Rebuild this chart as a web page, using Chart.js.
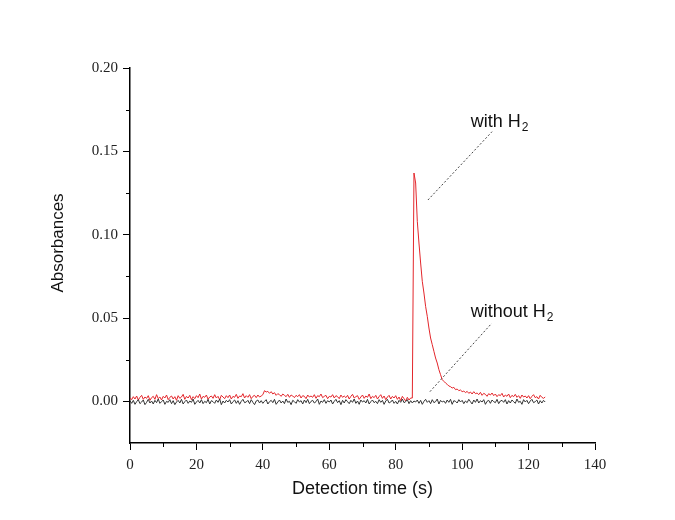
<!DOCTYPE html>
<html>
<head>
<meta charset="utf-8">
<script src="https://cdn.jsdelivr.net/npm/chart.js@4.4.1/dist/chart.umd.min.js"></script>
<style>
  html, body { margin: 0; padding: 0; background: #fff; }
  #wrap { width: 675px; height: 520px; }
</style>
</head>
<body>
<div id="wrap"><canvas id="absChart"></canvas></div>
<script>
// sampling times (s), 0.5 s apart
const timeS = [
  0,0.5,1,1.5,2,2.5,3,3.5,4,4.5, 5,5.5,6,6.5,7,7.5,8,8.5,9,9.5,
  10,10.5,11,11.5,12,12.5,13,13.5,14,14.5, 15,15.5,16,16.5,17,17.5,18,18.5,19,19.5,
  20,20.5,21,21.5,22,22.5,23,23.5,24,24.5, 25,25.5,26,26.5,27,27.5,28,28.5,29,29.5,
  30,30.5,31,31.5,32,32.5,33,33.5,34,34.5, 35,35.5,36,36.5,37,37.5,38,38.5,39,39.5,
  40,40.5,41,41.5,42,42.5,43,43.5,44,44.5, 45,45.5,46,46.5,47,47.5,48,48.5,49,49.5,
  50,50.5,51,51.5,52,52.5,53,53.5,54,54.5, 55,55.5,56,56.5,57,57.5,58,58.5,59,59.5,
  60,60.5,61,61.5,62,62.5,63,63.5,64,64.5, 65,65.5,66,66.5,67,67.5,68,68.5,69,69.5,
  70,70.5,71,71.5,72,72.5,73,73.5,74,74.5, 75,75.5,76,76.5,77,77.5,78,78.5,79,79.5,
  80,80.5,81,81.5,82,82.5,83,83.5,84,84.5, 85,85.5,86,86.5,87,87.5,88,88.5,89,89.5,
  90,90.5,91,91.5,92,92.5,93,93.5,94,94.5, 95,95.5,96,96.5,97,97.5,98,98.5,99,99.5,
  100,100.5,101,101.5,102,102.5,103,103.5,104,104.5, 105,105.5,106,106.5,107,107.5,108,108.5,109,109.5,
  110,110.5,111,111.5,112,112.5,113,113.5,114,114.5, 115,115.5,116,116.5,117,117.5,118,118.5,119,119.5,
  120,120.5,121,121.5,122,122.5,123,123.5,124,124.5, 125
];

const absWithoutH2 = [
  0.0004,-0.0012,0.0006,-0.0018,-0.0002,0.0010,-0.0014,-0.0004,0.0008,-0.0020,
  -0.0006,0.0012,-0.0010,0.0002,-0.0016,0.0006,-0.0008,0.0014,-0.0012,-0.0002,
  0.0008,-0.0018,0.0000,-0.0006,0.0010,-0.0014,0.0004,-0.0020,-0.0004,0.0006,
  -0.0010,0.0012,-0.0016,-0.0002,0.0008,-0.0012,0.0002,-0.0006,0.0014,-0.0018,
  -0.0004,0.0006,-0.0010,0.0010,-0.0014,0.0000,-0.0008,0.0012,-0.0016,0.0004,
  -0.0002,-0.0012,0.0008,-0.0006,0.0014,-0.0020,0.0002,-0.0010,0.0006,-0.0004,
  0.0010,-0.0016,-0.0002,0.0008,-0.0012,0.0004,-0.0018,0.0000,0.0012,-0.0008,
  -0.0004,0.0006,-0.0014,0.0010,-0.0006,-0.0020,0.0002,0.0008,-0.0010,0.0004,
  -0.0012,0.0000,0.0010,-0.0016,-0.0002,0.0006,-0.0008,0.0012,-0.0018,-0.0004,
  0.0008,-0.0010,0.0002,-0.0014,0.0014,-0.0006,0.0000,-0.0020,0.0006,-0.0002,
  -0.0012,0.0010,-0.0004,0.0004,-0.0016,0.0008,-0.0008,0.0012,-0.0014,0.0000,
  0.0006,-0.0010,-0.0002,0.0014,-0.0018,0.0002,-0.0006,0.0010,-0.0012,0.0004,
  -0.0004,0.0008,-0.0016,0.0000,0.0012,-0.0008,0.0004,-0.0020,0.0006,-0.0010,
  0.0010,-0.0002,-0.0014,0.0006,-0.0006,0.0014,-0.0012,0.0002,-0.0018,0.0008,
  -0.0004,0.0004,-0.0010,0.0012,-0.0016,-0.0002,0.0008,-0.0008,0.0000,-0.0014,
  0.0010,-0.0006,0.0006,-0.0018,0.0002,0.0012,-0.0010,-0.0004,0.0008,-0.0012,
  0.0000,-0.0016,0.0006,-0.0006,0.0014,-0.0008,-0.0002,0.0010,-0.0014,0.0004,
  -0.0010,0.0002,-0.0004,0.0008,-0.0012,0.0006,-0.0018,0.0000,0.0012,-0.0006,
  0.0004,-0.0014,0.0010,-0.0008,-0.0002,0.0014,-0.0016,0.0006,-0.0004,0.0002,
  -0.0012,0.0008,-0.0006,0.0012,-0.0018,0.0004,0.0000,-0.0010,0.0010,-0.0004,
  0.0006,-0.0014,0.0002,-0.0008,0.0012,-0.0002,-0.0016,0.0008,-0.0006,0.0014,
  -0.0010,0.0004,-0.0004,0.0010,-0.0018,0.0000,0.0006,-0.0012,0.0008,-0.0002,
  -0.0008,0.0012,-0.0014,0.0002,0.0006,-0.0006,0.0010,-0.0016,0.0004,-0.0010,
  0.0008,-0.0002,-0.0012,0.0014,-0.0006,0.0000,-0.0018,0.0010,-0.0004,0.0006,
  -0.0014,0.0002,0.0012,-0.0008,-0.0002,0.0008,-0.0016,0.0004,-0.0010,0.0006,
  -0.0004
];

const absWithH2 = [
  0.0022,0.0010,0.0028,0.0014,0.0032,0.0008,0.0024,0.0036,0.0012,0.0026,
  0.0018,0.0034,0.0006,0.0022,0.0030,0.0012,0.0040,0.0016,0.0026,0.0008,
  0.0030,0.0020,0.0038,0.0010,0.0024,0.0032,0.0014,0.0028,0.0006,0.0034,
  0.0018,0.0026,0.0042,0.0012,0.0030,0.0020,0.0036,0.0010,0.0028,0.0016,
  0.0034,0.0022,0.0044,0.0014,0.0030,0.0024,0.0038,0.0012,0.0026,0.0032,
  0.0018,0.0040,0.0020,0.0030,0.0010,0.0036,0.0026,0.0016,0.0034,0.0022,
  0.0038,0.0014,0.0030,0.0024,0.0042,0.0018,0.0032,0.0028,0.0046,0.0020,
  0.0034,0.0024,0.0040,0.0016,0.0030,0.0036,0.0022,0.0038,0.0026,0.0032,
  0.0040,0.0064,0.0056,0.0060,0.0048,0.0058,0.0044,0.0052,0.0036,0.0046,
  0.0040,0.0030,0.0044,0.0036,0.0028,0.0042,0.0024,0.0038,0.0032,0.0022,
  0.0036,0.0028,0.0040,0.0020,0.0034,0.0030,0.0016,0.0038,0.0026,0.0032,
  0.0024,0.0040,0.0018,0.0034,0.0028,0.0044,0.0022,0.0030,0.0036,0.0016,
  0.0030,0.0026,0.0040,0.0020,0.0034,0.0028,0.0016,0.0038,0.0024,0.0032,
  0.0022,0.0036,0.0014,0.0030,0.0042,0.0020,0.0028,0.0034,0.0012,0.0026,
  0.0038,0.0018,0.0032,0.0024,0.0044,0.0016,0.0030,0.0022,0.0036,0.0014,
  0.0028,0.0040,0.0018,0.0032,0.0010,0.0026,0.0036,0.0014,0.0030,0.0020,
  0.0034,0.0012,0.0026,0.0004,0.0030,0.0016,0.0002,0.0024,0.0008,0.0020,
  0.0020,0.1370,0.1310,0.1080,0.0950,0.0830,0.0720,0.0650,0.0570,0.0510,
  0.0440,0.0380,0.0340,0.0300,0.0260,0.0230,0.0190,0.0160,0.0130,0.0120,
  0.0110,0.0102,0.0092,0.0088,0.0080,0.0084,0.0070,0.0074,0.0064,0.0068,
  0.0058,0.0062,0.0052,0.0060,0.0048,0.0056,0.0044,0.0058,0.0046,0.0050,
  0.0040,0.0054,0.0036,0.0048,0.0042,0.0030,0.0046,0.0038,0.0050,0.0034,
  0.0044,0.0028,0.0040,0.0034,0.0048,0.0026,0.0038,0.0030,0.0044,0.0022,
  0.0036,0.0028,0.0042,0.0024,0.0034,0.0018,0.0038,0.0026,0.0032,0.0020,
  0.0034,0.0016,0.0030,0.0040,0.0022,0.0028,0.0014,0.0036,0.0024,0.0018,
  0.0026
];

const xTicks = [0, 20, 40, 60, 80, 100, 120, 140];
const xMinorTicks = [10, 30, 50, 70, 90, 110, 130];
const yTicks = [0, 0.05, 0.10, 0.15, 0.20];
const yMinorTicks = [0.025, 0.075, 0.125, 0.175];

const TICK_FONT = { family: '"Liberation Serif", "DejaVu Serif", serif', size: 15 };
const LABEL_FONT = '"Liberation Sans", Arial, sans-serif';
const INK = '#111';

// callouts, anchored in data units
const callouts = [
  { text: 'with H', sub: '2', at: [102.6, 0.1648], from: [89.7, 0.1208], to: [109.0, 0.1618] },
  { text: 'without H', sub: '2', at: [102.6, 0.0508], from: [90.3, 0.0058], to: [108.9, 0.0468] },
];

const extrasPlugin = {
  id: 'extras',
  afterDraw(chart) {
    const { ctx, scales: { x, y }, chartArea } = chart;
    ctx.save();

    // minor ticks
    ctx.strokeStyle = '#000';
    ctx.lineWidth = 1;
    ctx.beginPath();
    xMinorTicks.forEach(v => {
      const px = Math.round(x.getPixelForValue(v)) + 0.5;
      ctx.moveTo(px, chartArea.bottom);
      ctx.lineTo(px, chartArea.bottom + 4);
    });
    yMinorTicks.forEach(v => {
      const py = Math.round(y.getPixelForValue(v)) + 0.5;
      ctx.moveTo(chartArea.left, py);
      ctx.lineTo(chartArea.left - 4, py);
    });
    ctx.stroke();

    // y axis title
    ctx.fillStyle = INK;
    ctx.font = `17px ${LABEL_FONT}`;
    ctx.textAlign = 'center';
    ctx.textBaseline = 'middle';
    ctx.translate(58, 243);
    ctx.rotate(-Math.PI / 2);
    ctx.fillText('Absorbances', 0, 0);
    ctx.setTransform(1, 0, 0, 1, 0, 0);

    // callouts
    callouts.forEach(c => {
      ctx.strokeStyle = '#444';
      ctx.setLineDash([2, 2]);
      ctx.beginPath();
      ctx.moveTo(x.getPixelForValue(c.from[0]), y.getPixelForValue(c.from[1]));
      ctx.lineTo(x.getPixelForValue(c.to[0]), y.getPixelForValue(c.to[1]));
      ctx.stroke();
      ctx.setLineDash([]);

      const tx = x.getPixelForValue(c.at[0]);
      const ty = y.getPixelForValue(c.at[1]);
      ctx.textAlign = 'left';
      ctx.textBaseline = 'alphabetic';
      ctx.font = `18px ${LABEL_FONT}`;
      ctx.fillText(c.text, tx, ty);
      const w = ctx.measureText(c.text).width;
      ctx.font = `12px ${LABEL_FONT}`;
      ctx.fillText(c.sub, tx + w + 1, ty + 4);
    });

    ctx.restore();
  },
};

new Chart(document.getElementById('absChart'), {
  type: 'line',
  data: {
    datasets: [
      {
        label: 'without H2',
        data: timeS.map((t, i) => ({ x: t, y: absWithoutH2[i] })),
        borderColor: '#333', borderWidth: 1, pointRadius: 0, tension: 0,
      },
      {
        label: 'with H2',
        data: timeS.map((t, i) => ({ x: t, y: absWithH2[i] })),
        borderColor: '#e3262b', borderWidth: 1, pointRadius: 0, tension: 0,
      },
    ],
  },
  options: {
    responsive: true, maintainAspectRatio: false, animation: false,
    layout: { padding: { top: 68, right: 80, bottom: 0, left: 0 } },
    plugins: { legend: { display: false }, tooltip: { enabled: false } },
    scales: {
      x: {
        type: 'linear', min: 0, max: 140,
        afterBuildTicks: s => { s.ticks = xTicks.map(v => ({ value: v })); },
        afterFit: s => { s.height = 77; },
        border: { color: '#000', width: 1.5 },
        grid: { drawOnChartArea: false, tickLength: 7, tickColor: '#000' },
        ticks: { color: '#222', font: TICK_FONT, padding: 6, maxRotation: 0 },
        title: {
          display: true, text: 'Detection time (s)', color: INK,
          font: { family: LABEL_FONT, size: 18 }, padding: { top: 0, bottom: 20 },
        },
      },
      y: {
        min: -0.025, max: 0.20,
        afterBuildTicks: s => { s.ticks = yTicks.map(v => ({ value: v })); },
        afterFit: s => { s.width = 130; },
        border: { color: '#000', width: 1.5 },
        grid: { drawOnChartArea: false, tickLength: 7, tickColor: '#000' },
        ticks: { color: '#222', font: TICK_FONT, padding: 5, callback: v => v.toFixed(2) },
      },
    },
  },
  plugins: [extrasPlugin],
});
</script>
</body>
</html>
